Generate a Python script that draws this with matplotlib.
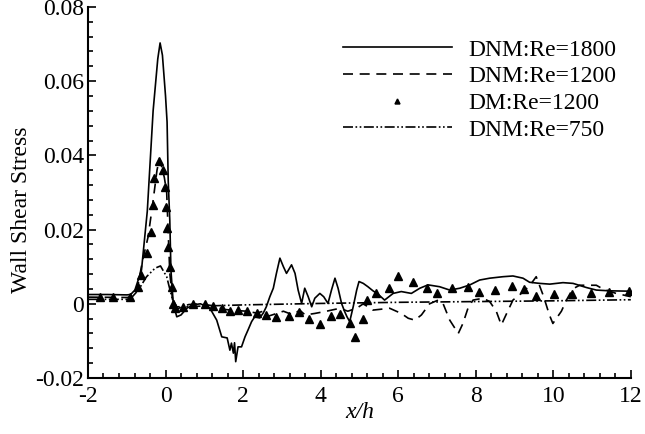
import numpy as np
import matplotlib
matplotlib.use("Agg")
import matplotlib.pyplot as plt
from matplotlib.ticker import MultipleLocator, FuncFormatter

plt.rcParams["font.family"] = ["Liberation Serif", "DejaVu Serif"]

# DNM, Re = 1800
x_1800 = [-2.0, -1.5, -1.0, -0.9, -0.79, -0.62, -0.47, -0.32, -0.2, -0.14, -0.08,
          0.0, 0.04, 0.07, 0.11, 0.14, 0.2, 0.29, 0.4, 0.55, 0.7, 0.9, 1.14, 1.32,
          1.45, 1.59, 1.66, 1.70, 1.75, 1.78, 1.81, 1.87, 1.96, 2.05, 2.13, 2.22,
          2.30, 2.43, 2.52, 2.6, 2.69, 2.78, 2.86, 2.95, 3.04, 3.12, 3.25, 3.34,
          3.42, 3.51, 3.59, 3.68, 3.77, 3.85, 3.98, 4.08, 4.19, 4.28, 4.37, 4.45,
          4.54, 4.62, 4.68, 4.75, 4.84, 4.93, 4.99, 5.1, 5.22, 5.35, 5.48, 5.65,
          5.87, 6.08, 6.34, 6.56, 6.77, 7.07, 7.33, 7.59, 7.85, 8.1, 8.36, 8.7,
          8.96, 9.22, 9.39, 9.65, 9.91, 10.25, 10.51, 10.85, 11.11, 11.45, 11.97]
y_1800 = [0.0025, 0.0025, 0.0024, 0.0025, 0.0037, 0.0091, 0.025, 0.052, 0.066,
          0.0703, 0.067, 0.056, 0.049, 0.033, 0.0225, 0.009, 0.0, -0.0035, -0.003,
          -0.0012, -0.0003, 0.0, -0.0011, -0.0044, -0.0089, -0.0092, -0.0125,
          -0.0106, -0.0133, -0.0105, -0.0156, -0.0116, -0.0116, -0.0089, -0.007,
          -0.0048, -0.0035, -0.0038, -0.0025, -0.0008, 0.0019, 0.0042, 0.0082,
          0.0123, 0.010, 0.0082, 0.0105, 0.0082, 0.0037, 0.0001, 0.0042, 0.0019,
          -0.0008, 0.0015, 0.0028, 0.0019, 0.0001, 0.0037, 0.0069, 0.0042, 0.0001,
          -0.0021, -0.0035, -0.0048, -0.0008, 0.0037, 0.006, 0.0055, 0.0046,
          0.0035, 0.0026, 0.001, 0.0028, 0.0033, 0.0028, 0.0042, 0.0051, 0.0046,
          0.0037, 0.0042, 0.0051, 0.0064, 0.0069, 0.0073, 0.0075, 0.0069, 0.0058,
          0.0055, 0.0053, 0.0057, 0.0055, 0.0044, 0.0037, 0.0035, 0.0034]

# DNM, Re = 1200
x_1200 = [-2.0, -1.0, -0.9, -0.8, -0.7, -0.59, -0.45, -0.33, -0.22, -0.16, -0.1,
          -0.03, 0.03, 0.07, 0.11, 0.2, 0.28, 0.4, 0.6, 0.9, 1.2, 1.5, 1.8, 2.1,
          2.35, 2.52, 2.6, 2.75, 3.04, 3.29, 3.46, 3.6, 3.85, 4.15, 4.5, 4.7, 4.93,
          5.1, 5.35, 5.78, 6.08, 6.26, 6.43, 6.6, 6.81, 7.03, 7.16, 7.33, 7.55,
          7.67, 7.8, 7.93, 8.19, 8.36, 8.53, 8.66, 8.78, 8.96, 9.2, 9.4, 9.56,
          9.75, 9.9, 9.99, 10.21, 10.34, 10.5, 10.68, 11.11, 11.28, 11.62, 11.88,
          12.0]
y_1200 = [0.0018, 0.0017, 0.0018, 0.003, 0.0056, 0.0118, 0.018, 0.027, 0.036,
          0.039, 0.037, 0.034, 0.03, 0.019, 0.0083, -0.0008, -0.0017, -0.0008,
          -0.0002, 0.0, -0.0005, -0.0015, -0.0018, -0.002, -0.0025, -0.002,
          -0.0035, -0.003, -0.002, -0.003, -0.0017, -0.003, -0.0026, -0.002,
          -0.0012, -0.002, -0.0012, 0.0, -0.0017, -0.0012, -0.0026, -0.0039,
          -0.0044, -0.003, 0.0, 0.001, 0.0, -0.0044, -0.008, -0.0053, -0.0012,
          0.001, 0.0015, 0.0006, -0.002, -0.0057, -0.003, 0.001, 0.003, 0.005,
          0.0073, 0.002, -0.003, -0.0053, -0.002, 0.001, 0.004, 0.005, 0.005,
          0.004, 0.0028, 0.0022, 0.0019]

# DM, Re = 1200
x_dm = [-1.7, -1.35, -0.92, -0.7, -0.62, -0.49, -0.38, -0.33, -0.31, -0.16,
        -0.06, -0.02, 0.01, 0.03, 0.07, 0.11, 0.16, 0.2, 0.24, 0.46, 0.71, 1.02,
        1.23, 1.45, 1.66, 1.88, 2.09, 2.35, 2.6, 2.86, 3.19, 3.45, 3.71, 3.98,
        4.26, 4.49, 4.77, 4.88, 5.1, 5.2, 5.42, 5.77, 6.0, 6.37, 6.75, 7.0, 7.39,
        7.8, 8.08, 8.51, 8.94, 9.24, 9.56, 10.02, 10.49, 10.98, 11.45, 11.95]
y_dm = [0.0019, 0.0019, 0.0019, 0.0046, 0.0078, 0.0136, 0.0194, 0.0266, 0.0338,
        0.0385, 0.036, 0.0316, 0.0262, 0.0203, 0.0154, 0.01, 0.0046, 0.0, -0.0012,
        -0.0008, 0.0, 0.0, -0.0005, -0.0012, -0.002, -0.0017, -0.002, -0.0026,
        -0.003, -0.0036, -0.0033, -0.0021, -0.0042, -0.0054, -0.0033, -0.0027,
        -0.0052, -0.009, -0.0042, 0.001, 0.0028, 0.0042, 0.0075, 0.006, 0.0043,
        0.003, 0.0042, 0.0046, 0.0031, 0.0036, 0.0048, 0.004, 0.0022, 0.0026,
        0.0026, 0.0028, 0.0033, 0.0035]

# DNM, Re = 750
x_750 = [-2.0, -1.0, -0.9, -0.7, -0.49, -0.27, -0.13, 0.03, 0.16, 0.29, 0.5,
         1.0, 2.0, 4.0, 6.0, 8.0, 10.0, 12.0]
y_750 = [0.0012, 0.0012, 0.0014, 0.0037, 0.0073, 0.0096, 0.0102, 0.0073, 0.0019,
         -0.0008, -0.0008, -0.0006, -0.0003, 0.0001, 0.0004, 0.0006, 0.0008,
         0.0011]

FS = 17

fig = plt.figure(figsize=(6.45, 4.34), dpi=100)
ax = fig.add_axes([0.1364, 0.129, 0.8416, 0.855])

lw = 1.2
ax.plot(x_1800, y_1800, color="black", lw=lw, label="DNM:Re=1800")
ax.plot(x_1200, y_1200, color="black", lw=lw, ls=(0, (6, 4)), label="DNM:Re=1200")
ax.plot(x_dm, y_dm, ls="none", marker="^", ms=6, color="black", label="DM:Re=1200")
ax.plot(x_750, y_750, color="black", lw=lw, ls=(0, (6, 1.5, 1, 1.5, 1, 1.5)),
        label="DNM:Re=750")

ax.set_xlim(-2, 12)
ax.set_ylim(-0.02, 0.08)
ax.xaxis.set_major_locator(MultipleLocator(2))
ax.xaxis.set_minor_locator(MultipleLocator(0.4))
ax.yaxis.set_major_locator(MultipleLocator(0.02))
ax.yaxis.set_minor_locator(MultipleLocator(0.004))
ax.yaxis.set_major_formatter(FuncFormatter(lambda v, _: "0" if abs(v) < 1e-9 else f"{v:.2f}"))
ax.xaxis.set_major_formatter(FuncFormatter(lambda v, _: f"{v:.0f}"))

for side in ("top", "right"):
    ax.spines[side].set_visible(False)
for side in ("left", "bottom"):
    ax.spines[side].set_linewidth(1.5)
ax.tick_params(which="both", direction="in", top=False, right=False,
               labelsize=FS, width=1.2)
ax.tick_params(axis="y", pad=3)
ax.tick_params(axis="x", pad=6)
ax.tick_params(which="major", length=6)
ax.tick_params(which="minor", length=3.5)

ax.set_xlabel("x/h", fontsize=FS, style="italic", labelpad=-4)
ax.set_ylabel("Wall Shear Stress", fontsize=FS)
ax.yaxis.set_label_coords(-0.103, 0.453)

leg = ax.legend(loc="upper left", bbox_to_anchor=(0.532, 0.91),
                bbox_transform=fig.transFigure, frameon=False, fontsize=FS,
                handlelength=4.6, handletextpad=0.7, labelspacing=0.22,
                borderpad=0, borderaxespad=0, markerscale=0.6)

fig.savefig("out.png", dpi=100)
